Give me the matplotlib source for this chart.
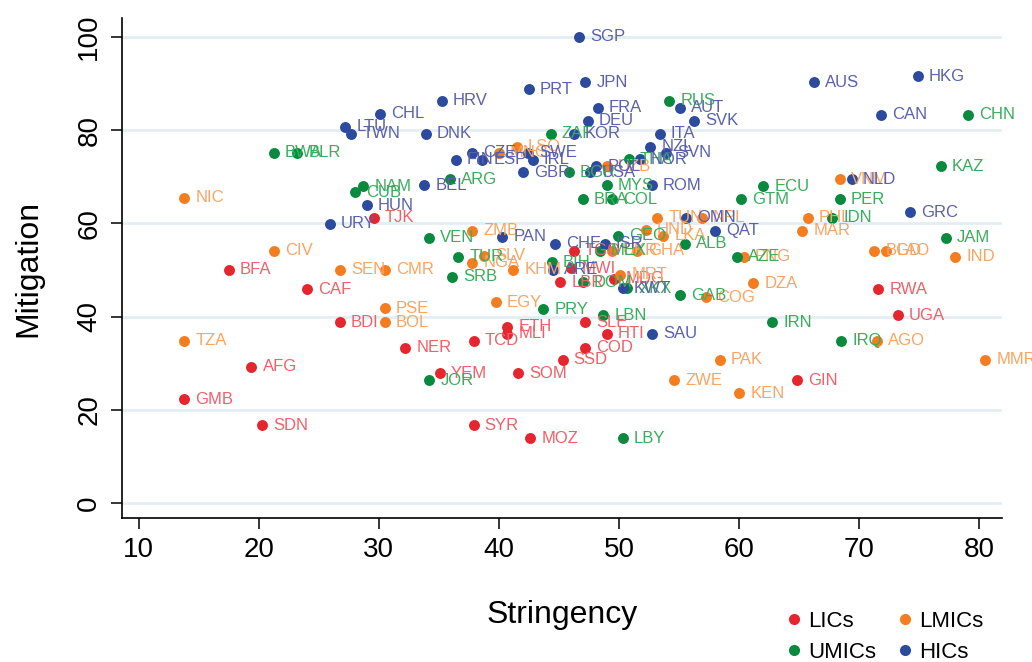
import matplotlib.pyplot as plt
from matplotlib.lines import Line2D

# country code, stringency, mitigation, income group
codes = ["TJK", "BFA", "CAF", "BDI", "NER", "AFG", "GMB", "SDN", "YEM", "SOM",
         "SYR", "MOZ", "TCD", "ETH", "MLI", "SSD", "COD", "SLE", "HTI", "LBR",
         "MWI", "TGO", "MDG", "GIN", "RWA", "UGA",
         "NIC", "CIV", "SEN", "CMR", "PSE", "BOL", "TZA", "ZMB", "SLV", "NGA",
         "KHM", "EGY", "LSO", "MNG", "UZB", "UKR", "GHA", "MRT", "HND", "LKA",
         "TUN", "NPL", "COG", "ZWE", "PAK", "KEN", "PNG", "DZA", "PHL", "MAR",
         "VNM", "BGD", "LAO", "IND", "AGO", "MMR",
         "BWA", "BLR", "NAM", "CUB", "ARG", "ZAF", "RUS", "BGR", "THA", "MYS",
         "BRA", "COL", "ECU", "GTM", "PER", "IDN", "KAZ", "CHN", "JAM", "VEN",
         "TUR", "SRB", "GEO", "ALB", "MEX", "BIH", "DOM", "XKX", "GAB", "AZE",
         "PRY", "LBN", "IRN", "IRQ", "JOR", "LBY",
         "SGP", "JPN", "PRT", "HRV", "HKG", "AUS", "AUT", "FRA", "SVK", "DEU",
         "CHL", "LTU", "TWN", "CAN", "DNK", "KOR", "ITA", "NZL", "SVN", "CZE",
         "SWE", "FIN", "ESP", "IRL", "GBR", "NOR", "BEL", "USA", "POL", "ROM",
         "HUN", "URY", "NLD", "GRC", "OMN", "QAT", "ISR", "CHE", "PAN", "ARE",
         "KWT", "SAU"]

stringency = [29.6, 17.5, 24.0, 26.75, 32.2, 19.4, 13.8, 20.3, 35.1, 41.6,
              37.9, 42.6, 37.9, 40.7, 40.7, 45.3, 47.2, 47.2, 49.0, 45.1,
              46.0, 46.25, 49.6, 64.8, 71.6, 73.2,
              13.8, 21.25, 26.8, 30.5, 30.5, 30.5, 13.8, 37.8, 38.75, 37.8,
              41.2, 39.75, 41.5, 40.0, 49.0, 49.4, 51.5, 50.1, 52.25, 53.7,
              53.2, 56.9, 57.25, 54.6, 58.4, 60.0, 60.4, 61.2, 65.7, 65.25,
              68.4, 71.25, 72.2, 78.0, 71.5, 80.5,
              21.25, 23.2, 28.7, 28.0, 35.9, 44.3, 54.2, 45.8, 50.8, 49.0,
              47.0, 49.4, 62.0, 60.2, 68.4, 67.75, 76.8, 79.1, 77.2, 34.2,
              36.6, 36.1, 49.9, 55.5, 48.4, 44.4, 47.0, 50.7, 55.1, 59.8,
              43.7, 48.7, 62.75, 68.5, 34.2, 50.3,
              46.7, 47.2, 42.5, 35.25, 74.9, 66.2, 55.1, 48.25, 56.25, 47.4,
              30.1, 27.2, 27.7, 71.8, 33.9, 46.25, 53.4, 52.6, 53.9, 37.75,
              42.4, 36.4, 38.6, 42.8, 42.0, 51.75, 33.8, 47.6, 48.1, 52.75,
              29.0, 25.9, 69.4, 74.25, 55.6, 58.0, 48.8, 44.7, 40.3, 44.5,
              50.3, 52.75]

mitigation = [61.2, 50.0, 45.9, 38.8, 33.3, 29.2, 22.3, 16.7, 27.9, 27.9,
              16.7, 13.9, 34.8, 37.8, 36.3, 30.7, 33.3, 38.8, 36.3, 47.4,
              50.4, 54.1, 48.1, 26.4, 45.9, 40.3,
              65.5, 54.1, 50.0, 50.0, 41.8, 38.8, 34.8, 58.4, 53.0, 51.5,
              50.0, 43.1, 76.4, 75.1, 72.3, 54.1, 54.1, 49.0, 58.6, 57.3,
              61.2, 61.2, 44.2, 26.4, 30.7, 23.6, 52.8, 47.2, 61.2, 58.4,
              69.5, 54.1, 54.1, 52.8, 34.8, 30.7,
              75.1, 75.1, 68.0, 66.7, 69.5, 79.2, 86.3, 71.0, 73.8, 68.2,
              65.2, 65.2, 68.0, 65.2, 65.2, 61.2, 72.3, 83.3, 56.9, 56.9,
              52.8, 48.5, 57.3, 55.6, 54.1, 51.7, 47.4, 46.1, 44.6, 52.8,
              41.6, 40.3, 38.8, 34.8, 26.4, 13.9,
              100.0, 90.3, 88.8, 86.3, 91.6, 90.3, 84.8, 84.8, 82.0, 82.0,
              83.5, 80.7, 79.2, 83.3, 79.2, 79.2, 79.2, 76.4, 75.1, 75.1,
              75.1, 73.6, 73.6, 73.6, 71.0, 73.8, 68.2, 71.0, 72.3, 68.2,
              63.9, 59.9, 69.5, 62.4, 61.2, 58.4, 55.6, 55.6, 57.1, 50.0,
              46.1, 36.3]

income = (["LICs"] * 26 + ["LMICs"] * 36 + ["UMICs"] * 36 + ["HICs"] * 42)

groups = ["LICs", "LMICs", "UMICs", "HICs"]
dot_colors = {"LICs": "#e6262e", "LMICs": "#f47d20",
              "UMICs": "#0a8a3e", "HICs": "#2c4a9e"}
text_colors = {"LICs": "#ee6168", "LMICs": "#f8a564",
               "UMICs": "#3aad5c", "HICs": "#5961ad"}

fig = plt.figure(figsize=(10.32, 6.62), dpi=100)
ax = fig.add_axes([0.118, 0.2175, 0.853, 0.755])

for g in groups:
    xs = [x for x, k in zip(stringency, income) if k == g]
    ys = [y for y, k in zip(mitigation, income) if k == g]
    labs = [c for c, k in zip(codes, income) if k == g]
    ax.scatter(xs, ys, s=62, color=dot_colors[g], linewidths=0, zorder=3)
    for x, y, lab in zip(xs, ys, labs):
        ax.annotate(lab, (x, y), xytext=(8, 0), textcoords="offset points",
                    va="center", ha="left", fontsize=12,
                    family=["Liberation Sans", "DejaVu Sans"],
                    color=text_colors[g], zorder=4)

ax.set_xlim(8.6, 81.9)
ax.set_ylim(-3.2, 104)
ax.set_xticks(range(10, 90, 10))
ax.set_yticks(range(0, 120, 20))
ax.grid(axis="y", color="#e4eef2", linewidth=2)
ax.set_axisbelow(True)
for s in ["top", "right"]:
    ax.spines[s].set_visible(False)
ax.spines["left"].set_linewidth(1.2)
ax.spines["bottom"].set_linewidth(1.2)

font = ["Liberation Sans", "DejaVu Sans"]
ax.tick_params(axis="both", direction="out", length=8, width=1.1,
               labelsize=20, pad=6)
for lbl in ax.get_xticklabels() + ax.get_yticklabels():
    lbl.set_family(font)
for lbl in ax.get_yticklabels():
    lbl.set_rotation(90)
    lbl.set_va("center")

ax.set_xlabel("Stringency", fontsize=23, family=font, labelpad=26)
ax.set_ylabel("Mitigation", fontsize=23, family=font, labelpad=24)

handles = [Line2D([], [], marker="o", linestyle="", markersize=7,
                  color=dot_colors[g]) for g in ["LICs", "UMICs", "LMICs", "HICs"]]
fig.legend(handles, ["LICs", "UMICs", "LMICs", "HICs"], ncol=2,
           loc="center left", bbox_to_anchor=(0.739, 0.038), frameon=False,
           prop={"family": font, "size": 16}, handletextpad=0.15,
           columnspacing=0.8, labelspacing=0.45, handlelength=1.0)

fig.savefig("out.png", dpi=100)
